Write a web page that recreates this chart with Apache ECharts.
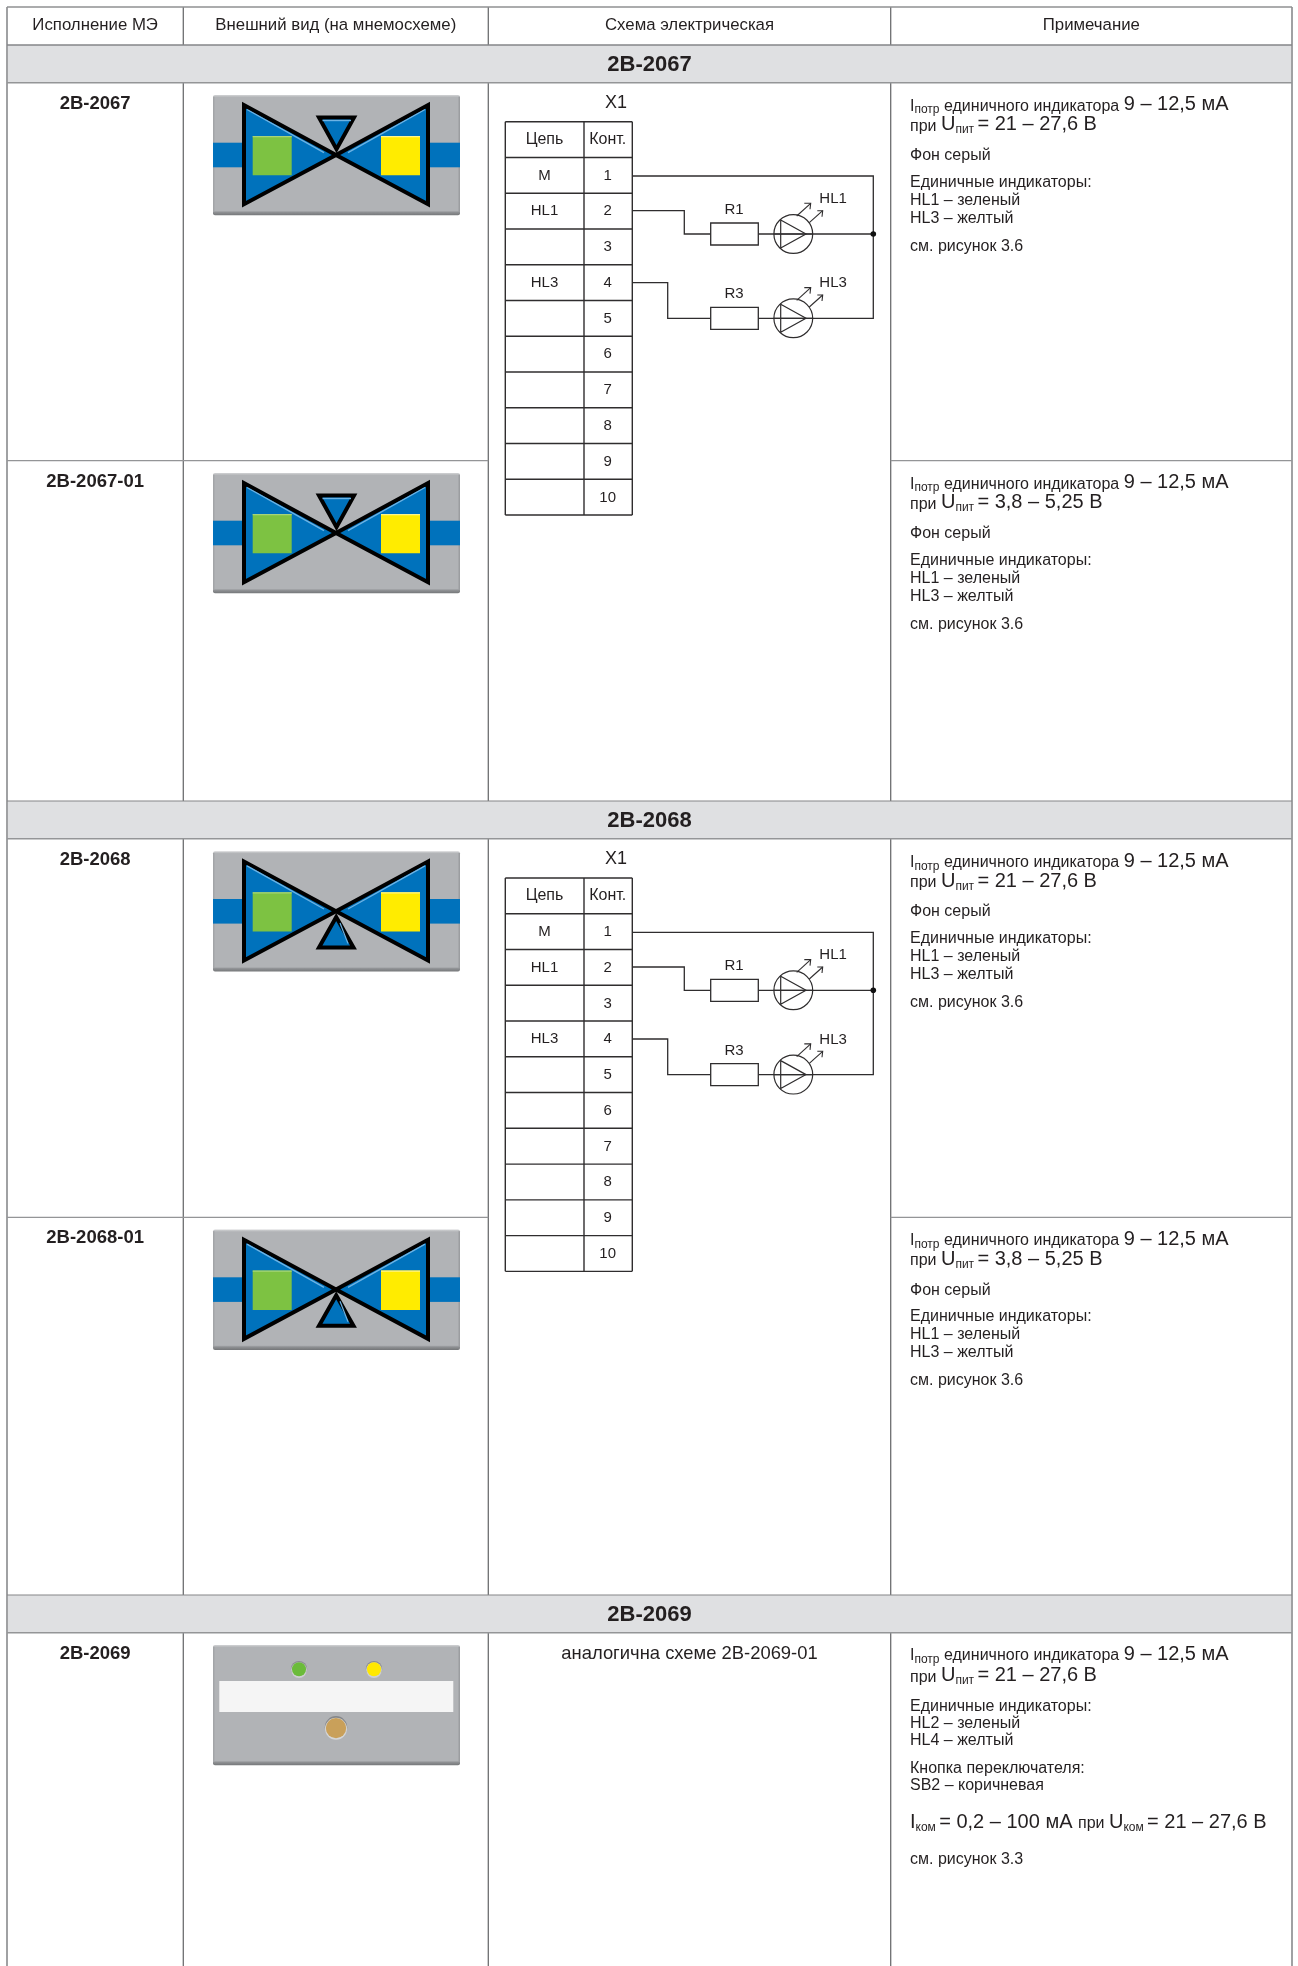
<!DOCTYPE html>
<html lang="ru">
<head>
<meta charset="utf-8">
<title>Исполнение МЭ</title>
<style>html,body{margin:0;padding:0;background:#fff}#chart{width:1298px;height:1966px}</style>
<script src="https://cdn.jsdelivr.net/npm/echarts@6/dist/echarts.min.js"></script>
</head>
<body>
<div id="chart"></div>
<script>
// ---- content ----
const columnHeaders = ['Исполнение МЭ', 'Внешний вид (на мнемосхеме)', 'Схема электрическая', 'Примечание'];
const sectionTitles = ['2В-2067', '2В-2068', '2В-2069'];
const valveVariants = ['2В-2067', '2В-2067-01', '2В-2068', '2В-2068-01'];
const valveActuator = ['down', 'down', 'up', 'up'];
const lastVariant = '2В-2069';
const lastSchemeNote = 'аналогична схеме 2В-2069-01';
const connectorName = 'X1';
const connectorHeaders = ['Цепь', 'Конт.'];
const connectorCircuits = ['М', 'HL1', '', 'HL3', '', '', '', '', '', ''];
const connectorContacts = ['1', '2', '3', '4', '5', '6', '7', '8', '9', '10'];
const resistorLabels = ['R1', 'R3'];
const ledLabels = ['HL1', 'HL3'];
const supplyRanges = ['21 – 27,6 В', '3,8 – 5,25 В', '21 – 27,6 В', '3,8 – 5,25 В'];
const commonCurrent = '9 – 12,5 мА';
const noteBackground = 'Фон серый';
const noteIndicatorsTitle = 'Единичные индикаторы:';
const noteValveIndicators = ['HL1 – зеленый', 'HL3 – желтый'];
const noteValveFigure = 'см. рисунок 3.6';
const noteLastIndicators = ['HL2 – зеленый', 'HL4 – желтый'];
const noteButton = ['Кнопка переключателя:', 'SB2 – коричневая'];
const noteLastFigure = 'см. рисунок 3.3';

// ---- layout & style ----
const W = 1298, H = 1966;
const FONT = '"Liberation Sans", Arial, sans-serif';
const INK = '#231f20', WIRE = '#2f2d2e', BLUE = '#0072bc', SKY = '#6db3e4';
const X0 = 7, X1 = 183.3, X2 = 488.3, X3 = 890.7, X4 = 1292;
const BAND_TOPS = [45, 801, 1595], BAND_H = 37.7, TOP = 7;
const VALVE_ROW_TOPS = [82.7, 460.7, 839, 1217.3];
const LAST_ROW_TOP = 1632.7;
const NOTE = 16;
const measure = document.createElement('canvas').getContext('2d');
const fontOf = (size, bold) => (bold ? 'bold ' : '') + size + 'px ' + FONT;
function textW(s, size, bold) { measure.font = fontOf(size, bold); return measure.measureText(s).width; }

function buildBlock(i, P) {
  const out = [];
  const line = (pts, color, width) => out.push({ type: 'polyline', silent: true,
    shape: { points: pts.map(p => P(p[0], p[1])) },
    style: { stroke: color, lineWidth: width, fill: null, lineJoin: 'miter' } });
  const rect = (x, y, w, h, style, r) => {
    const a = P(x, y), b = P(x + w, y + h);
    out.push({ type: 'rect', silent: true, shape: { x: a[0], y: a[1], width: b[0] - a[0], height: b[1] - a[1], r: r || 0 }, style });
  };
  const poly = (pts, style) => out.push({ type: 'polygon', silent: true, shape: { points: pts.map(p => P(p[0], p[1])) }, style });
  const circle = (x, y, r, style) => { const c = P(x, y); out.push({ type: 'circle', silent: true, shape: { cx: c[0], cy: c[1], r }, style }); };
  // text placed on an alphabetic baseline
  const text = (s, x, base, size, opt) => {
    opt = opt || {};
    if (!s) return;
    const c = P(x, base - 0.3465 * size);
    out.push({ type: 'text', silent: true, style: { text: s, x: c[0], y: c[1], font: fontOf(size, opt.bold),
      fill: opt.fill || INK, textAlign: opt.align || 'left', textVerticalAlign: 'middle' } });
  };
  const runs = (list, x, base) => {
    list.forEach(r => {
      const sub = r[1] === 's';
      const size = r[1] === 'b' ? 20 : sub ? 12 : NOTE;
      if (r[0].trim()) text(r[0], x, base + (sub ? 2.6 : 0), size);
      x += textW(r[0], size);
    });
  };

  function panel(top) {
    rect(213, top + 12.2, 247, 120.4, { fill: new echarts.graphic.LinearGradient(0, 0, 0, 1, [
      { offset: 0, color: '#d3d4d6' }, { offset: 0.02, color: '#b1b3b6' }, { offset: 0.962, color: '#b1b3b6' },
      { offset: 0.975, color: '#8f9194' }, { offset: 1, color: '#757779' }]) }, 2);
    rect(213, top + 14, 1.5, 115, { fill: '#a3a5a8' });
    rect(458.5, top + 14, 1.5, 115, { fill: '#9b9da0' });
  }
  function valve(top, dir) {
    panel(top);
    const y = d => top + d;
    rect(213, y(60), 30, 24.6, { fill: BLUE });
    rect(430, y(60), 30, 24.6, { fill: BLUE });
    const stroke = { fill: BLUE, stroke: '#000', lineWidth: 4, lineJoin: 'miter' };
    poly([[244, y(22.5)], [244, y(121.5)], [336, y(72.3)]], stroke);
    poly([[428, y(22.5)], [428, y(121.5)], [336, y(72.3)]], stroke);
    line([[247, y(26.8)], [324, y(70)]], SKY, 1.4);
    line([[425, y(26.8)], [348, y(70)]], SKY, 1.4);
    rect(252.7, y(53.3), 39, 39.3, { fill: '#7dc242' });
    rect(381, y(53.3), 39, 39.3, { fill: '#ffec00' });
    rect(252.7, y(53.3), 39, 1.2, { fill: '#a6d47a' });
    rect(381, y(53.3), 39, 1.2, { fill: '#fff58a' });
    if (dir === 'down') {
      poly([[319, y(34.8)], [354, y(34.8)], [336.5, y(66.5)]], stroke);
      line([[322.5, y(37.8)], [351, y(37.8)]], SKY, 1.4);
    } else {
      poly([[319, y(108.5)], [353.5, y(108.5)], [336.2, y(78)]], stroke);
      line([[340, y(84)], [348, y(104.5)]], SKY, 1.2);
    }
  }
  function scheme(top) {
    const y = d => top + d;
    text(connectorName, 616, y(26.3), 18, { align: 'center' });
    const tTop = y(39), rowH = 35.76, xl = 505.3, xm = 584, xr = 632.3;
    for (let r = 0; r <= 11; r++) line([[xl, tTop + r * rowH], [xr, tTop + r * rowH]], WIRE, 1.4);
    [xl, xm, xr].forEach(x => line([[x, tTop], [x, tTop + 11 * rowH]], WIRE, 1.4));
    const cy = r => tTop + (r + 0.5) * rowH;
    text(connectorHeaders[0], 544.5, cy(0) + 5.6, 16, { align: 'center' });
    text(connectorHeaders[1], 607.7, cy(0) + 5.6, 16, { align: 'center' });
    connectorContacts.forEach((c, r) => {
      text(connectorCircuits[r], 544.5, cy(r + 1) + 5.4, 15, { align: 'center' });
      text(c, 607.7, cy(r + 1) + 5.4, 15, { align: 'center' });
    });
    const yM = y(93.3), yA = y(151.3), yB = y(235.6), yBranch = y(200);
    line([[xr, yM], [873.3, yM], [873.3, yB], [758.3, yB]], WIRE, 1.3);
    line([[xr, y(128)], [684.3, y(128)], [684.3, yA], [710.7, yA]], WIRE, 1.3);
    line([[758.3, yA], [873.3, yA]], WIRE, 1.3);
    line([[xr, yBranch], [667.7, yBranch], [667.7, yB], [710.7, yB]], WIRE, 1.3);
    circle(873.3, yA, 2.8, { fill: '#111' });
    [yA, yB].forEach((c, k) => {
      rect(710.7, c - 11, 47.6, 22, { fill: '#fff', stroke: WIRE, lineWidth: 1.3 });
      text(resistorLabels[k], 734, c - 19, 15, { align: 'center' });
      circle(793.3, c, 19.4, { fill: null, stroke: WIRE, lineWidth: 1.2 });
      line([[793.3 - 19.4, c], [793.3 + 19.4, c]], WIRE, 1.2);
      poly([[780.7, c - 14], [806, c], [780.7, c + 14]], { fill: null, stroke: WIRE, lineWidth: 1.2, lineJoin: 'miter' });
      line([[796.7, c - 18], [810.7, c - 30.7]], WIRE, 1.1);
      line([[804.3, c - 30.7], [810.7, c - 30.7], [810, c - 24.7]], WIRE, 1.1);
      line([[809.3, c - 11.3], [822.7, c - 23.3]], WIRE, 1.1);
      line([[817.3, c - 23.3], [822.7, c - 23.3], [822, c - 17.3]], WIRE, 1.1);
      text(ledLabels[k], 819.3, c - 30, 15);
    });
  }
  function valveNote(top, k) {
    const y = d => top + d, x = 910;
    runs([['I', 'n'], ['потр', 's'], [' единичного индикатора ', 'n'], [commonCurrent, 'b']], x, y(29));
    runs([['при ', 'n'], ['U', 'b'], ['пит', 's'], [' ', 's'], ['= ' + supplyRanges[k], 'b']], x, y(49));
    text(noteBackground, x, y(78.5), NOTE);
    text(noteIndicatorsTitle, x, y(105), NOTE);
    text(noteValveIndicators[0], x, y(123.3), NOTE);
    text(noteValveIndicators[1], x, y(141.3), NOTE);
    text(noteValveFigure, x, y(169), NOTE);
  }

  if (i === 0) {              // table frame
    BAND_TOPS.forEach(t => rect(X0, t, X4 - X0, BAND_H, { fill: '#dfe0e2' }));
    const spans = [[TOP, BAND_TOPS[0]], [BAND_TOPS[0] + BAND_H, BAND_TOPS[1]], [BAND_TOPS[1] + BAND_H, BAND_TOPS[2]], [BAND_TOPS[2] + BAND_H, H]];
    [X1, X2, X3].forEach(x => spans.forEach(s => line([[x, s[0]], [x, s[1]]], '#6d6e70', 1.3)));
    [X0, X4].forEach(x => line([[x, TOP], [x, H]], '#a0a1a3', 2));
    line([[X0, TOP], [X4, TOP]], '#8f9092', 1.5);
    BAND_TOPS.forEach((t, k) => {
      line([[X0, t], [X4, t]], '#858688', k ? 1.2 : 1.5);
      line([[X0, t + BAND_H], [X4, t + BAND_H]], '#949597', 1.6);
    });
    [VALVE_ROW_TOPS[1], VALVE_ROW_TOPS[3]].forEach(t => {
      line([[X0, t], [X2, t]], '#949597', 1.3);
      line([[X3, t], [X4, t]], '#949597', 1.3);
    });
  } else if (i === 1) {       // column headers + section titles
    const centres = [(X0 + X1) / 2, (X1 + X2) / 2, (X2 + X3) / 2, (X3 + X4) / 2];
    columnHeaders.forEach((h, k) => text(h, centres[k], 31.5, 16.8, { align: 'center' }));
    sectionTitles.forEach((s, k) => text(s, (X0 + X4) / 2, BAND_TOPS[k] + 27.7, 22, { align: 'center', bold: true }));
  } else if (i < 6) {         // valve variants
    const k = i - 2, top = VALVE_ROW_TOPS[k];
    text(valveVariants[k], (X0 + X1) / 2, top + 27.3, 18.5, { align: 'center', bold: true });
    valve(top, valveActuator[k]);
    valveNote(top, k);
    if (k === 0 || k === 2) scheme(top);
  } else {                    // last variant
    const top = LAST_ROW_TOP, y = d => top + d;
    text(lastVariant, (X0 + X1) / 2, y(27.3), 18.5, { align: 'center', bold: true });
    panel(top);
    rect(219.3, y(48.3), 234, 31, { fill: '#f5f5f5' });
    [[299, '#6bbb3a'], [374, '#ffe800']].forEach(d => {
      circle(d[0], y(36.4), 8.2, { fill: '#8a8c8f' });
      circle(d[0], y(37.4), 7.9, { fill: '#cfd0d2' });
      circle(d[0], y(36.6), 7, { fill: d[1] });
    });
    circle(336, y(94.6), 11.2, { fill: '#85878a' });
    circle(336, y(96), 11, { fill: '#d6d7d8' });
    circle(336, y(95.4), 10.2, { fill: '#c9a05a' });
    text(lastSchemeNote, (X2 + X3) / 2, y(27.3), 18.4, { align: 'center' });
    const x = 910;
    runs([['I', 'n'], ['потр', 's'], [' единичного индикатора ', 'n'], [commonCurrent, 'b']], x, y(28.3));
    runs([['при ', 'n'], ['U', 'b'], ['пит', 's'], [' ', 's'], ['= ' + supplyRanges[0], 'b']], x, y(50));
    text(noteIndicatorsTitle, x, y(79), NOTE);
    text(noteLastIndicators[0], x, y(96.3), NOTE);
    text(noteLastIndicators[1], x, y(113.3), NOTE);
    text(noteButton[0], x, y(141.3), NOTE);
    text(noteButton[1], x, y(158.3), NOTE);
    runs([['I', 'b'], ['ком', 's'], [' ', 's'], ['= 0,2 – 100 мА ', 'b'], ['при ', 'n'], ['U', 'b'], ['ком', 's'], [' ', 's'], ['= 21 – 27,6 В', 'b']], x, y(196.3));
    text(noteLastFigure, x, y(232.3), NOTE);
  }
  return out;
}

const chart = echarts.init(document.getElementById('chart'), null, { renderer: 'canvas', width: W, height: H });
chart.setOption({
  animation: false,
  backgroundColor: '#ffffff',
  tooltip: { show: false },
  grid: { left: 0, right: 0, top: 0, bottom: 0 },
  xAxis: { type: 'value', min: 0, max: W, show: false },
  yAxis: { type: 'value', min: 0, max: H, inverse: true, show: false },
  series: [{
    type: 'custom',
    coordinateSystem: 'cartesian2d',
    clip: false,
    silent: true,
    data: [0, 1, 2, 3, 4, 5, 6].map(i => [i, 0]),
    encode: { x: 0, y: 1 },
    renderItem: function (params, api) {
      const P = (x, y) => api.coord([x, y]);
      return { type: 'group', children: buildBlock(params.dataIndex, P) };
    }
  }]
});
</script>
</body>
</html>
